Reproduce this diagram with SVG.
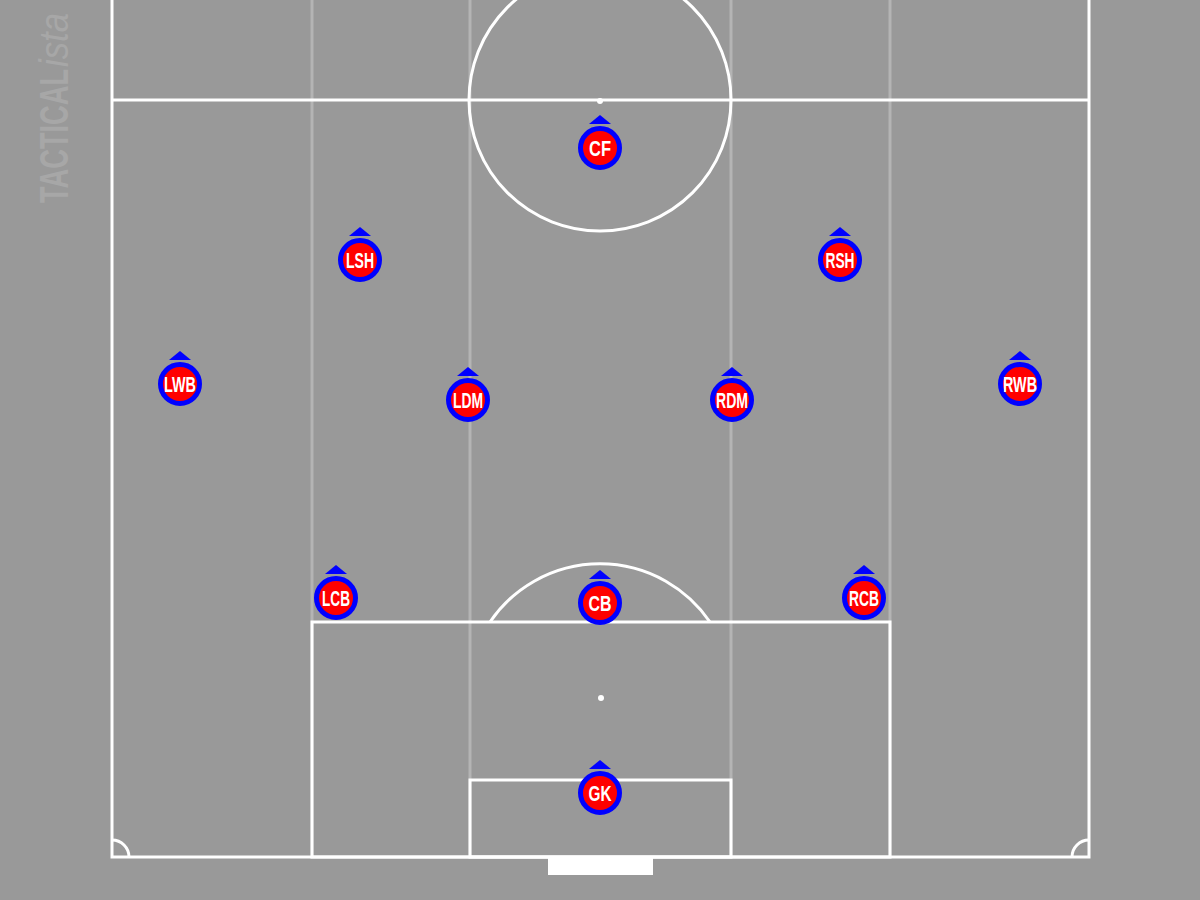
<svg xmlns="http://www.w3.org/2000/svg" width="1200" height="900" viewBox="0 0 1200 900">
<defs>
<style>
.line{fill:none;stroke:#ffffff;stroke-width:3}
.guide{stroke:#b4b4b4;stroke-width:3}
.disc{fill:#ff0000;stroke:#0000ff;stroke-width:5}
.arrow{fill:#0000ff}
.lbl{font-family:"Liberation Sans",Arial,sans-serif;font-weight:bold;font-size:22px;fill:#ffffff;text-anchor:middle}
.wm{font-family:"Liberation Sans",Arial,sans-serif;font-size:41px;fill:#a7a7a7}
</style>
</defs>
<rect width="1200" height="900" fill="#999999"/>
<g id="watermark">
<text class="wm" font-weight="bold" transform="translate(68,203) rotate(-90)" textLength="134" lengthAdjust="spacingAndGlyphs">TACTICAL</text>
<text class="wm" font-style="italic" transform="translate(68,67) rotate(-90)" textLength="54" lengthAdjust="spacingAndGlyphs">ista</text>
</g>
<g id="guides">
<line class="guide" x1="312" y1="0" x2="312" y2="857"/>
<line class="guide" x1="470" y1="0" x2="470" y2="857"/>
<line class="guide" x1="731" y1="0" x2="731" y2="857"/>
<line class="guide" x1="890" y1="0" x2="890" y2="857"/>
</g>
<g id="pitch">
<path class="line" d="M112,0 V857 H1089 V0"/>
<line class="line" x1="112" y1="100" x2="1089" y2="100"/>
<circle class="line" cx="600" cy="100" r="131"/>
<circle cx="600" cy="101" r="3" fill="#ffffff"/>
<rect class="line" x="312" y="622" width="578" height="235"/>
<rect class="line" x="470" y="780" width="261" height="77"/>
<circle cx="601" cy="698" r="3" fill="#ffffff"/>
<path class="line" d="M490,622 A133,133 0 0 1 710,622"/>
<path class="line" d="M112,840 A17,17 0 0 1 129,857"/>
<path class="line" d="M1072,857 A17,17 0 0 1 1089,840"/>
<rect x="548" y="857" width="105" height="18" fill="#ffffff"/>
</g>
<g id="connectors"></g>
<g id="CF"><path class="arrow" d="M589,124 L600,115 L611,124 Z"/><circle class="disc" cx="600" cy="148" r="19.5"/><text class="lbl" x="600" y="156" textLength="22" lengthAdjust="spacingAndGlyphs">CF</text></g>
<g id="LSH"><path class="arrow" d="M349,236 L360,227 L371,236 Z"/><circle class="disc" cx="360" cy="260" r="19.5"/><text class="lbl" x="360" y="268" textLength="28" lengthAdjust="spacingAndGlyphs">LSH</text></g>
<g id="RSH"><path class="arrow" d="M829,236 L840,227 L851,236 Z"/><circle class="disc" cx="840" cy="260" r="19.5"/><text class="lbl" x="840" y="268" textLength="29" lengthAdjust="spacingAndGlyphs">RSH</text></g>
<g id="LWB"><path class="arrow" d="M169,360 L180,351 L191,360 Z"/><circle class="disc" cx="180" cy="384" r="19.5"/><text class="lbl" x="180" y="392" textLength="32" lengthAdjust="spacingAndGlyphs">LWB</text></g>
<g id="RWB"><path class="arrow" d="M1009,360 L1020,351 L1031,360 Z"/><circle class="disc" cx="1020" cy="384" r="19.5"/><text class="lbl" x="1020" y="392" textLength="34" lengthAdjust="spacingAndGlyphs">RWB</text></g>
<g id="LDM"><path class="arrow" d="M457,376 L468,367 L479,376 Z"/><circle class="disc" cx="468" cy="400" r="19.5"/><text class="lbl" x="468" y="408" textLength="30" lengthAdjust="spacingAndGlyphs">LDM</text></g>
<g id="RDM"><path class="arrow" d="M721,376 L732,367 L743,376 Z"/><circle class="disc" cx="732" cy="400" r="19.5"/><text class="lbl" x="732" y="408" textLength="32" lengthAdjust="spacingAndGlyphs">RDM</text></g>
<g id="LCB"><path class="arrow" d="M325,574 L336,565 L347,574 Z"/><circle class="disc" cx="336" cy="598" r="19.5"/><text class="lbl" x="336" y="606" textLength="28" lengthAdjust="spacingAndGlyphs">LCB</text></g>
<g id="CB"><path class="arrow" d="M589,579 L600,570 L611,579 Z"/><circle class="disc" cx="600" cy="603" r="19.5"/><text class="lbl" x="600" y="611" textLength="23" lengthAdjust="spacingAndGlyphs">CB</text></g>
<g id="RCB"><path class="arrow" d="M853,574 L864,565 L875,574 Z"/><circle class="disc" cx="864" cy="598" r="19.5"/><text class="lbl" x="864" y="606" textLength="30" lengthAdjust="spacingAndGlyphs">RCB</text></g>
<g id="GK"><path class="arrow" d="M589,769 L600,760 L611,769 Z"/><circle class="disc" cx="600" cy="793" r="19.5"/><text class="lbl" x="600" y="801" textLength="23" lengthAdjust="spacingAndGlyphs">GK</text></g>
</svg>
